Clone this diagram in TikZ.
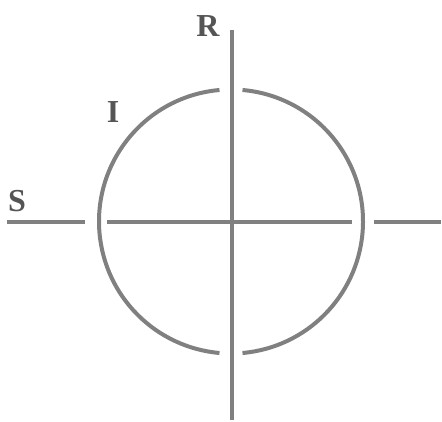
\documentclass[tikz,border=0pt]{standalone}
\usepackage{fontspec}
\setmainfont{Liberation Serif}
\usepackage{tikz}
\usetikzlibrary{calc,positioning}
\definecolor{axisgray}{RGB}{128,128,128}
\definecolor{labelgray}{RGB}{85,85,85}
\tikzstyle{axis}=[draw=axisgray,line width=4pt]
\tikzstyle{letter}=[text=labelgray,inner sep=0pt,font=\fontsize{32}{32}\selectfont\bfseries]

\begin{document}
\begin{tikzpicture}[x=1pt,y=-1pt]
\useasboundingbox (0,0) rectangle (442,422);
% centre and ends of the axes
\coordinate (o) at (231,221.5);
\coordinate (rtop) at (232,30);
\coordinate (rbot) at (232,420);
\coordinate (sl1) at (7,222);
\coordinate (sl2) at (85,222);
\coordinate (sm1) at (107,222);
\coordinate (sm2) at (352,222);
\coordinate (sr1) at (374,222);
\coordinate (sr2) at (441,222);
% axes
\draw[axis] (rtop) -- (rbot);
\draw[axis] (sl1) -- (sl2);
\draw[axis] (sm1) -- (sm2);
\draw[axis] (sr1) -- (sr2);
% circle, broken at top and bottom
\draw[axis] ($(o)+(85:132pt)$) arc[start angle=85,end angle=-85,radius=132pt];
\draw[axis] ($(o)+(95:132pt)$) arc[start angle=95,end angle=265,radius=132pt];
% labels
\node[letter] (s) at (17,201) {S};
\node[letter] (r) at (208,26) {R};
\node[letter] (i) at (113,112) {I};
\end{tikzpicture}
\end{document}
